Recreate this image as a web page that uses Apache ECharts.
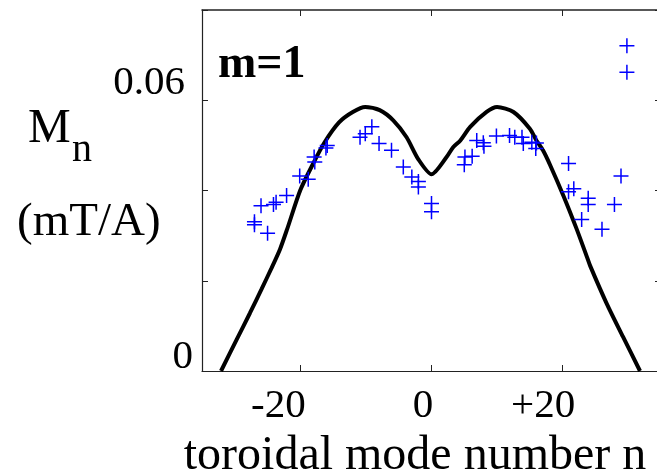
<!DOCTYPE html>
<html>
<head>
<meta charset="utf-8">
<script src="https://cdn.jsdelivr.net/npm/echarts@6/dist/echarts.min.js"></script>
<style>
html,body{margin:0;padding:0;background:#fff;}
#chart{width:657px;height:475px;}
</style>
</head>
<body>
<div id="chart"></div>
<script>
// Measured points (toroidal mode number n, Mn in mT/A)
var markerN = [-27, -27, -25, -26, -24.1, -23.7, -22.1, -20.1, -18.8, -17.9, -17.8, -16.1, -15.9, -10.9, -10.1, -9.1, -8, -6.1, -4.3, -3, -2, -2, 0, 0, 5.1, 5, 6.2, 6.9, 7.9, 8, 9.9, 11.9, 12.7, 13.8, 14, 15.3, 15.9, 16, 20.9, 20.9, 21.7, 23.9, 23.9, 22.9, 26, 28.9, 27.9, 29.8, 29.8];
var markerM = [0.0331, 0.0324, 0.0305, 0.0366, 0.0369, 0.0374, 0.0389, 0.0432, 0.0425, 0.0474, 0.0463, 0.0494, 0.0500, 0.0518, 0.0526, 0.0541, 0.0504, 0.0489, 0.0452, 0.0430, 0.0420, 0.0408, 0.0371, 0.0353, 0.0474, 0.0457, 0.0476, 0.0511, 0.0506, 0.0498, 0.0521, 0.0522, 0.0518, 0.0518, 0.0504, 0.0507, 0.0493, 0.0505, 0.0460, 0.0397, 0.0404, 0.0383, 0.0369, 0.0336, 0.0314, 0.0432, 0.0369, 0.0721, 0.0662];

// Model curve
var curveN = [-32.1, -29.7, -27.7, -25.9, -24.4, -23.1, -22, -20, -18, -16.3, -14.1, -12, -10.1, -7.9, -5.8, -3.8, -2, 0, 2.3, 3.3, 4.4, 5.9, 8.4, 10, 12.5, 15, 16, 17, 18.1, 20.1, 22.1, 23.7, 24.2, 26.7, 29.2, 31.8];
var curveM = [0, 0.0070, 0.0128, 0.0182, 0.0228, 0.0270, 0.0315, 0.0401, 0.0461, 0.0507, 0.0551, 0.0574, 0.0585, 0.0578, 0.0555, 0.0518, 0.0469, 0.0436, 0.0474, 0.0496, 0.0511, 0.0541, 0.0574, 0.0585, 0.0574, 0.0537, 0.0511, 0.0489, 0.0456, 0.0389, 0.0316, 0.0253, 0.0233, 0.0150, 0.0076, 0];

var xTickValues = [-20, 0, 20];
var xTickLabels = ['-20', '0', '+20'];
var yTickValues = [0, 0.06];
var yTickLabels = ['0', '0.06'];

var FONT = '"Liberation Serif", "Times New Roman", serif';
var AX = '#222';

var chart = echarts.init(document.getElementById('chart'), null, {renderer: 'canvas'});

function zip(a, b) { return a.map(function (v, i) { return [v, b[i]]; }); }

var xRich = {
  l0: {fontFamily: FONT, fontSize: 41, color: '#000', lineHeight: 41, padding: [0, 44, 0, 0]},
  l1: {fontFamily: FONT, fontSize: 41, color: '#000', lineHeight: 41, padding: [0, 17, 0, 0]},
  l2: {fontFamily: FONT, fontSize: 41, color: '#000', lineHeight: 41, padding: [0, 39, 0, 0]}
};
var yRich = {
  l0: {fontFamily: FONT, fontSize: 41, color: '#000', lineHeight: 41, padding: [0, 1, 28, 0]},
  l1: {fontFamily: FONT, fontSize: 41, color: '#000', lineHeight: 41, padding: [0, 9, 34, 0]}
};

var option = {
  animation: false,
  backgroundColor: '#fff',
  grid: {left: 202, right: -4, top: 10, bottom: 104, containLabel: false, outerBoundsMode: 'none'},
  xAxis: [{
    type: 'value', min: -35, max: 35, position: 'bottom',
    axisLine: {show: true, onZero: false, lineStyle: {color: AX, width: 1.2}},
    axisTick: {show: true, inside: true, length: 6, customValues: xTickValues, lineStyle: {color: AX}},
    splitLine: {show: false},
    axisLabel: {
      show: true, margin: 15, customValues: xTickValues,
      formatter: function (v) {
        for (var i = 0; i < xTickValues.length; i++) {
          if (Math.abs(v - xTickValues[i]) < 1e-9) return '{l' + i + '|' + xTickLabels[i] + '}';
        }
        return '';
      },
      rich: xRich
    },
    name: 'toroidal mode number n',
    nameLocation: 'middle',
    nameGap: 56,
    nameTextStyle: {fontFamily: FONT, fontSize: 48, color: '#000', lineHeight: 48, padding: [0, 33, 0, 0]}
  }, {
    type: 'value', min: -35, max: 35, position: 'top',
    axisLine: {show: true, onZero: false, lineStyle: {color: AX, width: 1.5}},
    axisTick: {show: true, inside: true, length: 6, customValues: xTickValues, lineStyle: {color: AX}},
    axisLabel: {show: false},
    splitLine: {show: false}
  }],
  yAxis: [{
    type: 'value', min: 0, max: 0.08, interval: 0.02, position: 'left',
    axisLine: {show: true, onZero: false, lineStyle: {color: AX, width: 1.2}},
    axisTick: {show: true, inside: true, length: 6, lineStyle: {color: AX}},
    splitLine: {show: false},
    axisLabel: {
      show: true, margin: 8,
      formatter: function (v) {
        for (var i = 0; i < yTickValues.length; i++) {
          if (Math.abs(v - yTickValues[i]) < 1e-9) return '{l' + i + '|' + yTickLabels[i] + '}';
        }
        return '';
      },
      rich: yRich
    }
  }, {
    type: 'value', min: 0, max: 0.08, interval: 0.02, position: 'right',
    axisLine: {show: true, onZero: false, lineStyle: {color: AX, width: 1.2}},
    axisTick: {show: true, inside: true, length: 6, lineStyle: {color: AX}},
    axisLabel: {show: false},
    splitLine: {show: false}
  }],
  graphic: [
    {type: 'text', left: 218, top: 42, style: {text: 'm=1', fontFamily: FONT, fontSize: 46, fontWeight: 'bold', fill: '#000'}},
    {type: 'text', left: 28, top: 105, style: {text: 'M', fontFamily: FONT, fontSize: 48, fill: '#000'}},
    {type: 'text', left: 72, top: 130, style: {text: 'n', fontFamily: FONT, fontSize: 40, fill: '#000'}},
    {type: 'text', left: 17, top: 199, style: {text: '(mT/A)', fontFamily: FONT, fontSize: 47, fill: '#000'}}
  ],
  series: [{
    type: 'line',
    data: zip(curveN, curveM),
    showSymbol: false,
    smooth: 0.25,
    lineStyle: {color: '#000', width: 4},
    z: 2,
    clip: true
  }, {
    type: 'scatter',
    data: zip(markerN, markerM),
    symbol: 'path://M0,45H100V55H0Z M45,0H55V100H45Z',
    symbolSize: 15,
    itemStyle: {color: '#0000ff', opacity: 1},
    z: 3
  }]
};
chart.setOption(option);
</script>
</body>
</html>
